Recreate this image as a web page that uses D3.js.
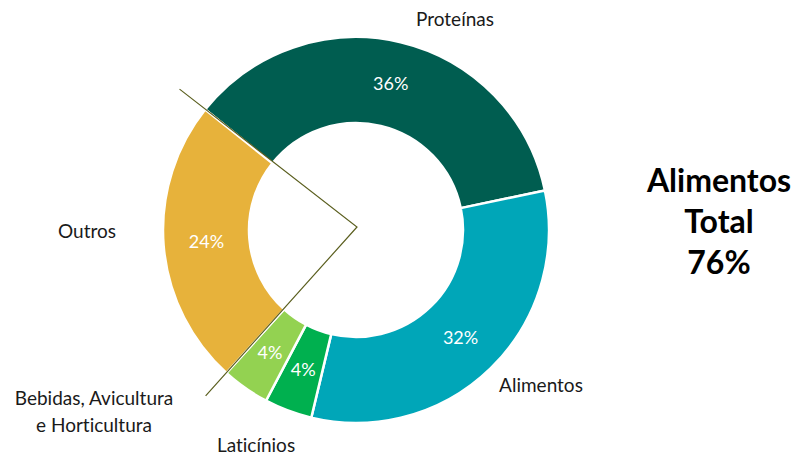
<!DOCTYPE html>
<html><head><meta charset="utf-8">
<script src="https://cdn.jsdelivr.net/npm/d3@7"></script>
<style>body{margin:0;background:#fff}svg{display:block}text{font-variant-ligatures:none;font-feature-settings:"liga" 0,"clig" 0}</style>
</head><body>
<script>
const categories = ["Proteínas", "Alimentos", "Laticínios", "Bebidas, Avicultura e Horticultura", "Outros"];
const values = [36, 32, 4, 4, 24];
const pctLabels = ["36%", "32%", "4%", "4%", "24%"];
const colors = ["#005d50", "#00a6b8", "#00b04f", "#93d251", "#e7b23b"];
const totalLines = ["Alimentos", "Total", "76%"];

const W = 797, H = 457;
const cx = 356, cy = 230, R = 193, r = 107;
const font = "Lato, 'Open Sans', sans-serif";

const svg = d3.select("body").append("svg").attr("width", W).attr("height", H);
const g = svg.append("g").attr("transform", `translate(${cx},${cy})`);

const start = -51.4 * Math.PI / 180;
const pie = d3.pie().sort(null).value(d => d).startAngle(start).endAngle(start + 2 * Math.PI);
const arcs = pie(values);
const arc = d3.arc().innerRadius(r).outerRadius(R);

g.selectAll("path.slice").data(arcs).join("path")
  .attr("class", "slice")
  .attr("d", arc)
  .attr("fill", (d, i) => colors[i])
  .attr("stroke", "#fff").attr("stroke-width", 2.5);

// bracket lines along the boundaries of "Outros"
const o = arcs[4];
const L1 = R * 1.17, L2 = R * 1.16;
const p1 = [Math.sin(o.endAngle) * L1, -Math.cos(o.endAngle) * L1];
const p2 = [Math.sin(o.startAngle) * L2, -Math.cos(o.startAngle) * L2];
g.append("path")
  .attr("d", d3.line()([p1, [1, -3], p2]))
  .attr("fill", "none").attr("stroke", "#5b5f1f").attr("stroke-width", 1.2);

// percentage labels
g.selectAll("text.pct").data(arcs).join("text")
  .attr("class", "pct")
  .attr("transform", d => { const c = arc.centroid(d); return `translate(${c[0]},${c[1] + 6})`; })
  .attr("text-anchor", "middle")
  .attr("font-family", font).attr("font-size", 18)
  .attr("fill", "#fff")
  .text((d, i) => pctLabels[i]);

// category labels
const catLayout = [
  {x: 455, y: 26, lines: ["Proteínas"]},
  {x: 541, y: 392, lines: ["Alimentos"]},
  {x: 256, y: 452, lines: ["Laticínios"]},
  {x: 94, y: 405, lines: ["Bebidas, Avicultura", "e Horticultura"]},
  {x: 87, y: 238, lines: ["Outros"]}
];
catLayout.forEach((c, i) => {
  const t = svg.append("text")
    .attr("text-anchor", "middle")
    .attr("font-family", font).attr("font-size", 19)
    .attr("fill", "#1a1a1a");
  c.lines.forEach((ln, j) => t.append("tspan").attr("x", c.x).attr("y", c.y + j * 27).text(ln));
});

// total annotation
const tt = svg.append("text").attr("text-anchor", "middle")
  .attr("font-family", font).attr("font-size", 32).attr("font-weight", "bold").attr("fill", "#000");
totalLines.forEach((ln, j) => tt.append("tspan").attr("x", 719).attr("y", 192 + j * 41).text(ln));
</script>
</body></html>
